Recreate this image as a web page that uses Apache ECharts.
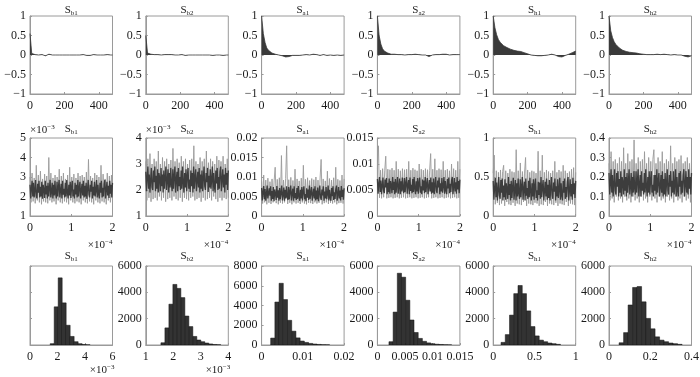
<!DOCTYPE html>
<html>
<head>
<meta charset="utf-8">
<script src="https://cdn.jsdelivr.net/npm/echarts@6/dist/echarts.min.js"></script>
<style>
  html, body { margin: 0; padding: 0; background: #fff; }
  #main { width: 700px; height: 377px; }
</style>
</head>
<body>
<div id="main"></div>
<script>
// parameter names (subscripts of S)
var paramNames = ["b1", "b2", "a1", "a2", "h1", "h2"];

// row 1: autocorrelation, lags 0..480
var acfLags = [0,10,20,30,40,50,60,70,80,90,100,110,120,130,140,150,160,170,180,190,200,210,220,230,240,250,260,270,280,290,300,310,320,330,340,350,360,370,380,390,400,410,420,430,440,450,460,470,480];
var acfSb1 = [0.55,0.04,0.02,0.01,0.02,0.0,-0.01,0.01,0.0,-0.02,0.01,0.02,0.01,0.0,0.01,0.0,-0.01,0.0,0.01,0.0,0.02,0.0,-0.01,0.0,0.01,0.0,0.01,0.0,-0.01,0.0,0.0,0.01,0.0,-0.01,-0.02,-0.01,0.0,0.01,0.0,0.0,0.01,0.0,-0.01,0.0,0.0,0.01,0.0,0.0,0.0];
var acfSb2 = [0.5,0.05,0.03,0.02,0.02,0.01,0.0,0.01,0.01,0.0,0.02,0.01,0.0,0.01,0.0,0.01,0.0,0.0,0.01,0.0,0.0,0.01,0.0,-0.01,0.0,0.0,0.01,0.0,0.0,0.0,0.01,0.0,-0.01,0.0,0.0,0.0,0.01,0.0,0.0,-0.01,0.0,0.0,0.01,0.0,0.0,-0.01,0.0,0.0,0.0];
var acfSa1 = [1.0,0.55,0.32,0.18,0.12,0.08,0.05,0.03,0.02,0.01,0.0,-0.01,-0.02,-0.04,-0.05,-0.05,-0.04,-0.02,-0.01,0.0,-0.01,-0.02,-0.01,0.0,0.0,0.01,0.01,0.0,0.0,0.01,0.02,0.02,0.01,0.0,-0.01,0.0,0.01,0.0,-0.01,-0.01,0.0,0.0,-0.01,0.0,0.0,-0.01,-0.01,0.0,0.0];
var acfSa2 = [1.0,0.5,0.28,0.16,0.1,0.07,0.05,0.03,0.02,0.02,0.02,0.01,0.01,0.02,0.01,0.01,0.0,0.01,0.01,0.0,0.01,0.01,0.02,0.02,0.01,0.0,0.0,0.01,0.0,-0.02,-0.04,-0.03,0.0,0.01,0.01,0.0,0.01,0.02,0.02,0.01,0.02,0.01,0.0,0.01,0.01,0.02,0.01,0.0,0.01];
var acfSh1 = [1.0,0.7,0.52,0.4,0.33,0.28,0.24,0.21,0.19,0.17,0.15,0.13,0.12,0.11,0.1,0.1,0.09,0.08,0.06,0.05,0.03,0.01,0.0,-0.01,-0.01,-0.02,-0.02,-0.01,-0.02,-0.02,-0.01,-0.01,0.0,0.01,0.02,0.01,0.0,-0.02,-0.04,-0.05,-0.05,-0.03,-0.01,0.0,0.02,0.04,0.06,0.08,0.1];
var acfSh2 = [1.0,0.62,0.45,0.34,0.27,0.22,0.18,0.15,0.12,0.1,0.09,0.08,0.07,0.07,0.06,0.05,0.05,0.04,0.03,0.03,0.02,0.02,0.01,0.01,0.01,0.02,0.01,0.01,0.02,0.01,0.01,0.02,0.02,0.01,0.01,0.01,0.0,0.01,0.01,0.0,0.0,0.0,0.0,-0.01,-0.03,-0.04,-0.05,-0.04,-0.02];

// row 2: traces (Sb1, Sb2 in units of 1e-3): dense core band + outer excursions
var traceSb1Core = [2.6,1.9,2.4,2.8,2.0,2.7,1.95,2.3,2.85,2.05,1.9,2.65,2.2,2.8,1.95,2.5,2.0,2.75,1.88,2.6,2.35,1.92,2.8,2.1,2.55,1.9,2.7,2.0,2.45,2.85,1.95,2.25,2.7,1.9,2.6,2.05,2.8,2.15,1.9,2.75,2.0,2.5,2.85,1.95,2.3,2.65,1.9,2.8,2.1,2.4,1.95,2.7,2.0,2.85,2.2,1.9,2.6,2.05,2.75,1.92,2.5,2.8,2.0,2.35,1.9,2.7,2.1,2.6,1.95,2.85,2.0,2.45,2.75,1.9,2.3,2.65,2.05,2.8,1.95,2.55,2.0,2.7,1.88,2.4,2.85,2.1,1.95,2.6,2.25,2.8,1.9,2.5,2.05,2.75,2.0,2.3,2.85,1.95,2.6,2.1,1.9,2.7,2.2,2.8,1.95,2.45,2.0,2.65,2.85,1.9,2.35,2.75,2.05,2.55,1.92,2.8,2.15,2.6,1.95,2.7];
var traceSb1Outer = [3.0,1.7,3.2,1.75,2.95,1.65,3.6,1.8,3.1,1.7,3.3,1.6,2.9,1.75,3.15,1.7,3.05,1.65,4.0,1.8,3.2,1.7,2.95,1.75,3.1,1.6,3.0,1.8,3.4,1.7,3.05,1.65,3.2,1.75,2.9,1.7,3.1,1.6,3.5,1.8,3.0,1.7,3.15,1.65,2.95,1.75,3.2,1.7,3.05,1.6,3.1,1.8,3.0,1.7,3.25,1.65,3.9,1.75,3.05,1.7,2.95,1.6,3.2,1.8,3.1,1.7,3.0,1.65,3.6,1.75,3.15,1.7,2.9,1.6,3.2,1.8,3.05,1.7,3.1,1.75];
var traceSb2Core = [2.7,1.95,2.5,2.9,2.05,2.6,1.9,2.4,2.85,2.1,2.0,2.75,2.3,2.9,1.95,2.55,2.05,2.8,1.9,2.65,2.45,1.95,2.85,2.15,2.6,1.9,2.75,2.05,2.5,2.9,2.0,2.35,2.8,1.9,2.65,2.1,2.85,2.2,1.95,2.8,2.05,2.55,2.9,1.9,2.4,2.7,1.95,2.85,2.15,2.5,2.0,2.75,2.05,2.9,2.3,1.9,2.65,2.1,2.8,1.95,2.55,2.85,2.05,2.4,1.92,2.75,2.15,2.65,1.9,2.9,2.05,2.5,2.8,1.95,2.35,2.7,2.1,2.85,1.9,2.6,2.05,2.75,1.95,2.45,2.9,2.15,2.0,2.65,2.3,2.85,1.92,2.55,2.1,2.8,2.05,2.4,2.9,1.95,2.65,2.15,1.9,2.75,2.25,2.85,2.0,2.5,2.05,2.7,2.9,1.95,2.4,2.8,2.1,2.6,1.9,2.85,2.2,2.65,2.0,2.75];
var traceSb2Outer = [3.1,1.6,3.2,1.7,3.4,1.55,3.0,1.65,3.2,1.7,3.1,1.6,3.5,1.75,3.0,1.6,3.25,1.7,3.1,1.55,3.2,1.65,3.0,1.7,3.15,1.6,3.6,1.75,3.1,1.65,3.2,1.6,3.05,1.7,3.3,1.55,3.1,1.7,3.2,1.65,3.0,1.6,3.15,1.7,3.2,1.75,3.7,1.6,3.1,1.65,3.0,1.7,3.25,1.55,3.1,1.7,3.2,1.6,3.5,1.65,3.05,1.7,3.2,1.6,3.1,1.75,3.0,1.65,3.3,1.55,3.15,1.7,3.1,1.6,3.3,1.7,3.0,1.65,3.2,1.7];
var traceSa1Core = [0.0072,0.004,0.0061,0.0077,0.0043,0.0069,0.0039,0.0056,0.0078,0.0045,0.0041,0.0071,0.0052,0.0076,0.0039,0.0064,0.0044,0.0074,0.0038,0.0068,0.0058,0.0041,0.0077,0.0047,0.0066,0.0039,0.0072,0.0043,0.006,0.0078,0.004,0.0054,0.0073,0.0039,0.0067,0.0045,0.0076,0.0049,0.0041,0.0074,0.0043,0.0063,0.0078,0.004,0.0057,0.007,0.0039,0.0076,0.0046,0.0059,0.0041,0.0072,0.0044,0.0077,0.0051,0.0039,0.0067,0.0045,0.0074,0.004,0.0064,0.0076,0.0043,0.0056,0.0038,0.0071,0.0047,0.0068,0.0041,0.0078,0.0044,0.006,0.0074,0.0039,0.0055,0.007,0.0045,0.0076,0.004,0.0065,0.0043,0.0073,0.0038,0.0059,0.0078,0.0047,0.0041,0.0068,0.0053,0.0076,0.0039,0.0063,0.0045,0.0074,0.0043,0.0057,0.0078,0.004,0.0067,0.0047,0.0039,0.0072,0.0051,0.0076,0.0041,0.0061,0.0044,0.0069,0.0078,0.0039,0.0056,0.0074,0.0045,0.0065,0.004,0.0077,0.0049,0.0067,0.0042,0.0071];
var traceSa1Outer = [0.009,0.0032,0.0105,0.0035,0.0092,0.003,0.0097,0.0034,0.0088,0.0031,0.0095,0.0035,0.009,0.0125,0.0033,0.0094,0.003,0.0098,0.0034,0.0155,0.0032,0.0092,0.0035,0.0096,0.018,0.0031,0.0093,0.0034,0.0099,0.003,0.0091,0.0035,0.012,0.0032,0.0095,0.0034,0.009,0.0031,0.0097,0.0035,0.013,0.0032,0.0094,0.003,0.0098,0.0034,0.0091,0.0033,0.0096,0.0031,0.0093,0.0035,0.01,0.0032,0.0092,0.0034,0.0097,0.0145,0.003,0.0095,0.0033,0.009,0.0035,0.0115,0.0031,0.0096,0.0034,0.0092,0.0032,0.0098,0.0035,0.0125,0.003,0.0094,0.0033,0.0091,0.0034,0.0105,0.0032,0.0095];
var traceSa2Core = [0.0071,0.0043,0.0062,0.0075,0.0046,0.0068,0.0042,0.0058,0.0074,0.0048,0.0044,0.007,0.0055,0.0073,0.0042,0.0064,0.0046,0.0072,0.0043,0.0067,0.006,0.0044,0.0075,0.005,0.0066,0.0042,0.0071,0.0045,0.0061,0.0075,0.0043,0.0056,0.0072,0.0042,0.0067,0.0047,0.0074,0.0051,0.0044,0.0073,0.0046,0.0063,0.0075,0.0043,0.0059,0.0069,0.0042,0.0074,0.0048,0.006,0.0044,0.0071,0.0046,0.0075,0.0053,0.0042,0.0067,0.0047,0.0073,0.0043,0.0064,0.0074,0.0045,0.0057,0.0042,0.007,0.0049,0.0068,0.0044,0.0075,0.0046,0.0061,0.0073,0.0042,0.0056,0.0069,0.0047,0.0074,0.0043,0.0065,0.0045,0.0072,0.0042,0.006,0.0075,0.0049,0.0044,0.0068,0.0055,0.0074,0.0042,0.0063,0.0047,0.0073,0.0045,0.0058,0.0075,0.0043,0.0067,0.0049,0.0042,0.0071,0.0053,0.0074,0.0044,0.0062,0.0046,0.0069,0.0075,0.0042,0.0057,0.0073,0.0047,0.0065,0.0043,0.0075,0.0051,0.0067,0.0044,0.007];
var traceSa2Outer = [0.009,0.0135,0.0035,0.0088,0.0034,0.0091,0.0036,0.0087,0.0115,0.0034,0.009,0.0035,0.0089,0.0036,0.0092,0.0034,0.0088,0.0035,0.0105,0.0036,0.009,0.0034,0.0087,0.0035,0.0091,0.0036,0.0089,0.0034,0.009,0.0035,0.0105,0.0036,0.0088,0.0034,0.0092,0.0035,0.0089,0.0036,0.0087,0.0034,0.01,0.0035,0.009,0.0036,0.0088,0.0034,0.0091,0.0035,0.0089,0.0036,0.0087,0.012,0.0034,0.009,0.0035,0.011,0.0036,0.0088,0.0034,0.0091,0.0035,0.0089,0.0036,0.0105,0.0034,0.0088,0.0035,0.009,0.0036,0.0087,0.0034,0.01,0.0035,0.0091,0.0036,0.0088,0.0034,0.0105,0.0035,0.009];
var traceSh1Core = [0.45,0.21,0.36,0.49,0.24,0.43,0.2,0.33,0.5,0.26,0.22,0.46,0.3,0.48,0.2,0.39,0.24,0.47,0.21,0.42,0.35,0.22,0.5,0.27,0.41,0.2,0.45,0.23,0.37,0.49,0.21,0.32,0.46,0.2,0.42,0.25,0.48,0.29,0.22,0.47,0.24,0.38,0.5,0.21,0.34,0.44,0.2,0.48,0.26,0.36,0.22,0.45,0.24,0.49,0.31,0.2,0.42,0.25,0.47,0.21,0.39,0.48,0.23,0.33,0.2,0.44,0.27,0.43,0.22,0.5,0.24,0.37,0.46,0.2,0.32,0.44,0.25,0.48,0.21,0.4,0.23,0.46,0.2,0.36,0.5,0.27,0.22,0.43,0.31,0.48,0.2,0.38,0.25,0.47,0.23,0.34,0.49,0.21,0.42,0.26,0.2,0.45,0.3,0.48,0.22,0.37,0.24,0.44,0.5,0.2,0.33,0.47,0.25,0.41,0.21,0.49,0.28,0.42,0.23,0.45];
var traceSh1Outer = [0.55,0.78,0.15,0.58,0.17,0.56,0.14,0.59,0.16,0.57,0.65,0.13,0.58,0.18,0.55,0.15,0.6,0.14,0.57,0.17,0.56,0.13,0.85,0.16,0.58,0.15,0.68,0.14,0.57,0.18,0.55,0.75,0.13,0.59,0.16,0.56,0.15,0.58,0.14,0.57,0.17,0.55,0.16,0.83,0.13,0.58,0.15,0.78,0.14,0.56,0.18,0.59,0.13,0.57,0.16,0.55,0.15,0.58,0.14,0.7,0.17,0.56,0.13,0.59,0.16,0.57,0.15,0.65,0.14,0.58,0.18,0.55,0.13,0.57,0.16,0.6,0.15,0.62,0.14,0.56];
var traceSh2Core = [0.22,0.11,0.17,0.24,0.12,0.21,0.1,0.16,0.24,0.13,0.11,0.22,0.15,0.23,0.1,0.19,0.12,0.23,0.1,0.2,0.17,0.11,0.24,0.13,0.2,0.1,0.22,0.12,0.18,0.24,0.11,0.15,0.22,0.1,0.2,0.12,0.23,0.14,0.11,0.23,0.12,0.18,0.24,0.1,0.16,0.21,0.1,0.23,0.13,0.17,0.11,0.22,0.12,0.24,0.15,0.1,0.2,0.12,0.23,0.11,0.19,0.23,0.12,0.16,0.1,0.21,0.13,0.21,0.11,0.24,0.12,0.18,0.22,0.1,0.15,0.21,0.12,0.23,0.1,0.19,0.11,0.22,0.1,0.17,0.24,0.13,0.11,0.21,0.15,0.23,0.1,0.18,0.12,0.23,0.11,0.16,0.24,0.1,0.2,0.13,0.1,0.22,0.15,0.23,0.11,0.18,0.12,0.21,0.24,0.1,0.16,0.23,0.12,0.2,0.11,0.24,0.14,0.2,0.11,0.22];
var traceSh2Outer = [0.27,0.08,0.33,0.09,0.28,0.07,0.29,0.1,0.27,0.08,0.3,0.09,0.28,0.07,0.35,0.1,0.27,0.08,0.32,0.09,0.28,0.07,0.29,0.1,0.39,0.08,0.27,0.09,0.3,0.07,0.28,0.1,0.29,0.08,0.33,0.09,0.27,0.07,0.3,0.1,0.28,0.08,0.29,0.34,0.09,0.27,0.07,0.3,0.1,0.28,0.08,0.33,0.09,0.27,0.07,0.29,0.1,0.28,0.08,0.36,0.09,0.27,0.07,0.3,0.1,0.28,0.08,0.29,0.09,0.31,0.07,0.27,0.1,0.28,0.08,0.3,0.09,0.27,0.07,0.29];

// row 3: histograms, first bin edge, bin width, counts (Sb1, Sb2 in 1e-3)
var histStart = [1.47, 1.55, 0.0022, 0.0021, 0.095, 0.049];
var histWidth = [0.29, 0.145, 0.00102, 0.00076, 0.0514, 0.0218];
var histSb1 = [100, 2900, 5100, 3200, 1500, 650, 250, 100, 40, 15];
var histSb2 = [170, 1300, 3100, 4600, 4300, 3600, 2200, 1400, 650, 380, 250, 150, 80, 40, 20];
var histSa1 = [700, 4350, 6250, 4600, 2500, 1400, 720, 400, 260, 160, 100, 60, 30, 20];
var histSa2 = [250, 2500, 5450, 5150, 3400, 1900, 950, 500, 280, 160, 100, 60, 40, 20, 10];
var histSh1 = [200, 790, 2270, 3900, 4520, 3900, 2590, 1400, 690, 370, 250, 150, 100, 50];
var histSh2 = [170, 940, 3040, 4370, 4440, 3280, 2020, 1230, 620, 370, 250, 150, 100, 50];

// axis ranges / tick steps per column
var traceYMin = [1, 1, 0, 0, 0, 0];
var traceYMax = [5, 4, 0.02, 0.015, 1, 0.4];
var traceYStep = [1, 1, 0.005, 0.005, 0.5, 0.1];
var histXMin = [0, 1, 0, 0, 0, 0];
var histXMax = [6, 4, 0.02, 0.015, 1, 0.4];
var histXStep = [2, 1, 0.01, 0.005, 0.5, 0.2];
var histYMax = [6000, 6000, 8000, 6000, 6000, 6000];

var acfData = [acfSb1, acfSb2, acfSa1, acfSa2, acfSh1, acfSh2];
var traceCore = [traceSb1Core, traceSb2Core, traceSa1Core, traceSa2Core, traceSh1Core, traceSh2Core];
var traceOuter = [traceSb1Outer, traceSb2Outer, traceSa1Outer, traceSa2Outer, traceSh1Outer, traceSh2Outer];
var histCounts = [histSb1, histSb2, histSa1, histSa2, histSh1, histSh2];

var FONT = "Liberation Serif";
var AXIS_COLOR = "#9a9a9a";
var TEXT_COLOR = "#1a1a1a";
var colLeft = [30, 145.8, 261.6, 377.4, 493.2, 609];
var colWidth = 82.5;
var rowTop = [16, 138, 266];
var rowHeight = [78, 78, 79];
var titleTop = [4, 123, 250];

var grids = [], xAxes = [], yAxes = [], series = [], titles = [];

function fmt(v) {
  return String(v).replace("-", "\u2212");
}

function makeAxis(dim, idx, cfg) {
  return {
    type: "value",
    gridIndex: idx,
    min: cfg.min,
    max: cfg.max,
    interval: cfg.step,
    axisLine: { show: true, onZero: false, lineStyle: { color: AXIS_COLOR, width: 1 } },
    axisTick: { show: true, inside: true, length: 2, lineStyle: { color: AXIS_COLOR } },
    splitLine: { show: false },
    axisLabel: {
      show: cfg.labels !== false,
      color: TEXT_COLOR,
      fontFamily: FONT,
      fontSize: 12,
      margin: dim === "x" ? 6 : 4,
      showMaxLabel: cfg.showMax,
      formatter: fmt
    }
  };
}

function addPanel(row, col, xCfg, yCfg) {
  var idx = grids.length;
  grids.push({
    left: colLeft[col], top: rowTop[row], width: colWidth, height: rowHeight[row],
    show: true, borderColor: AXIS_COLOR, borderWidth: 1, backgroundColor: "#fff",
    containLabel: false, outerBoundsMode: "none"
  });
  xAxes.push(makeAxis("x", idx, xCfg));
  yAxes.push(makeAxis("y", idx, yCfg));
  titles.push({
    text: "{s|S}{b|" + paramNames[col] + "}",
    left: colLeft[col] + colWidth / 2,
    top: titleTop[row],
    textAlign: "center",
    padding: 0,
    textStyle: {
      fontWeight: "normal",
      rich: {
        s: { fontFamily: FONT, fontSize: 11, fontWeight: "normal", lineHeight: 13, color: TEXT_COLOR },
        b: { fontFamily: FONT, fontSize: 7, fontWeight: "normal", lineHeight: 13, verticalAlign: "bottom", color: TEXT_COLOR }
      }
    }
  });
  return idx;
}

function expLabel(exp, x, y, align) {
  titles.push({
    text: "{a|\u00d710}{e|" + exp + "}",
    left: x, top: y, textAlign: align, padding: 0,
    textStyle: {
      fontWeight: "normal",
      rich: {
        a: { fontFamily: FONT, fontSize: 11, fontWeight: "normal", lineHeight: 13, color: TEXT_COLOR },
        e: { fontFamily: FONT, fontSize: 7, fontWeight: "normal", lineHeight: 13, verticalAlign: "top", color: TEXT_COLOR }
      }
    }
  });
}

function indexed(values, span) {
  return values.map(function (v, i) { return [i / (values.length - 1) * span, v]; });
}

for (var c = 0; c < 6; c++) {
  // autocorrelation
  var g = addPanel(0, c, { min: 0, max: 480, step: 200, showMax: false }, { min: -1, max: 1, step: 0.5 });
  series.push({
    type: "line", xAxisIndex: g, yAxisIndex: g, symbol: "none", clip: true,
    data: acfLags.map(function (l, i) { return [l, acfData[c][i]]; }),
    lineStyle: { color: "#3a3a3a", width: 0.8 },
    areaStyle: { color: "#3a3a3a", opacity: 1 }
  });

  // trace
  g = addPanel(1, c, { min: 0, max: 2, step: 1 }, { min: traceYMin[c], max: traceYMax[c], step: traceYStep[c] });
  series.push({
    type: "line", xAxisIndex: g, yAxisIndex: g, symbol: "none", clip: true, sampling: null,
    data: indexed(traceOuter[c], 2),
    lineStyle: { color: "#9a9a9a", width: 0.9 }
  });
  series.push({
    type: "line", xAxisIndex: g, yAxisIndex: g, symbol: "none", clip: true, sampling: null,
    data: indexed(traceCore[c], 2),
    lineStyle: { color: "#3d3d3d", width: 1.3 }
  });
  expLabel("\u22124", colLeft[c] + colWidth, 239, "right");
  if (c < 2) expLabel("\u22123", colLeft[c], 124, "left");

  // histogram
  g = addPanel(2, c,
    { min: histXMin[c], max: histXMax[c], step: histXStep[c] },
    { min: 0, max: histYMax[c], step: 2000, labels: c !== 0 });
  series.push({
    type: "custom", xAxisIndex: g, yAxisIndex: g, clip: true,
    encode: { x: [0, 1], y: 2 },
    data: histCounts[c].map(function (n, i) {
      return [histStart[c] + i * histWidth[c], histStart[c] + (i + 1) * histWidth[c], n];
    }),
    renderItem: function (params, api) {
      var p0 = api.coord([api.value(0), api.value(2)]);
      var p1 = api.coord([api.value(1), 0]);
      return {
        type: "rect",
        shape: { x: p0[0], y: p0[1], width: p1[0] - p0[0], height: p1[1] - p0[1] },
        style: { fill: "#333333", stroke: "#111111", lineWidth: 0.5 }
      };
    }
  });
  if (c < 2) expLabel("\u22123", colLeft[c] + colWidth + 2, 364, "right");
}

var myChart = echarts.init(document.getElementById("main"));
myChart.setOption({
  animation: false,
  backgroundColor: "#fff",
  title: titles,
  grid: grids,
  xAxis: xAxes,
  yAxis: yAxes,
  series: series
});
</script>
</body>
</html>
